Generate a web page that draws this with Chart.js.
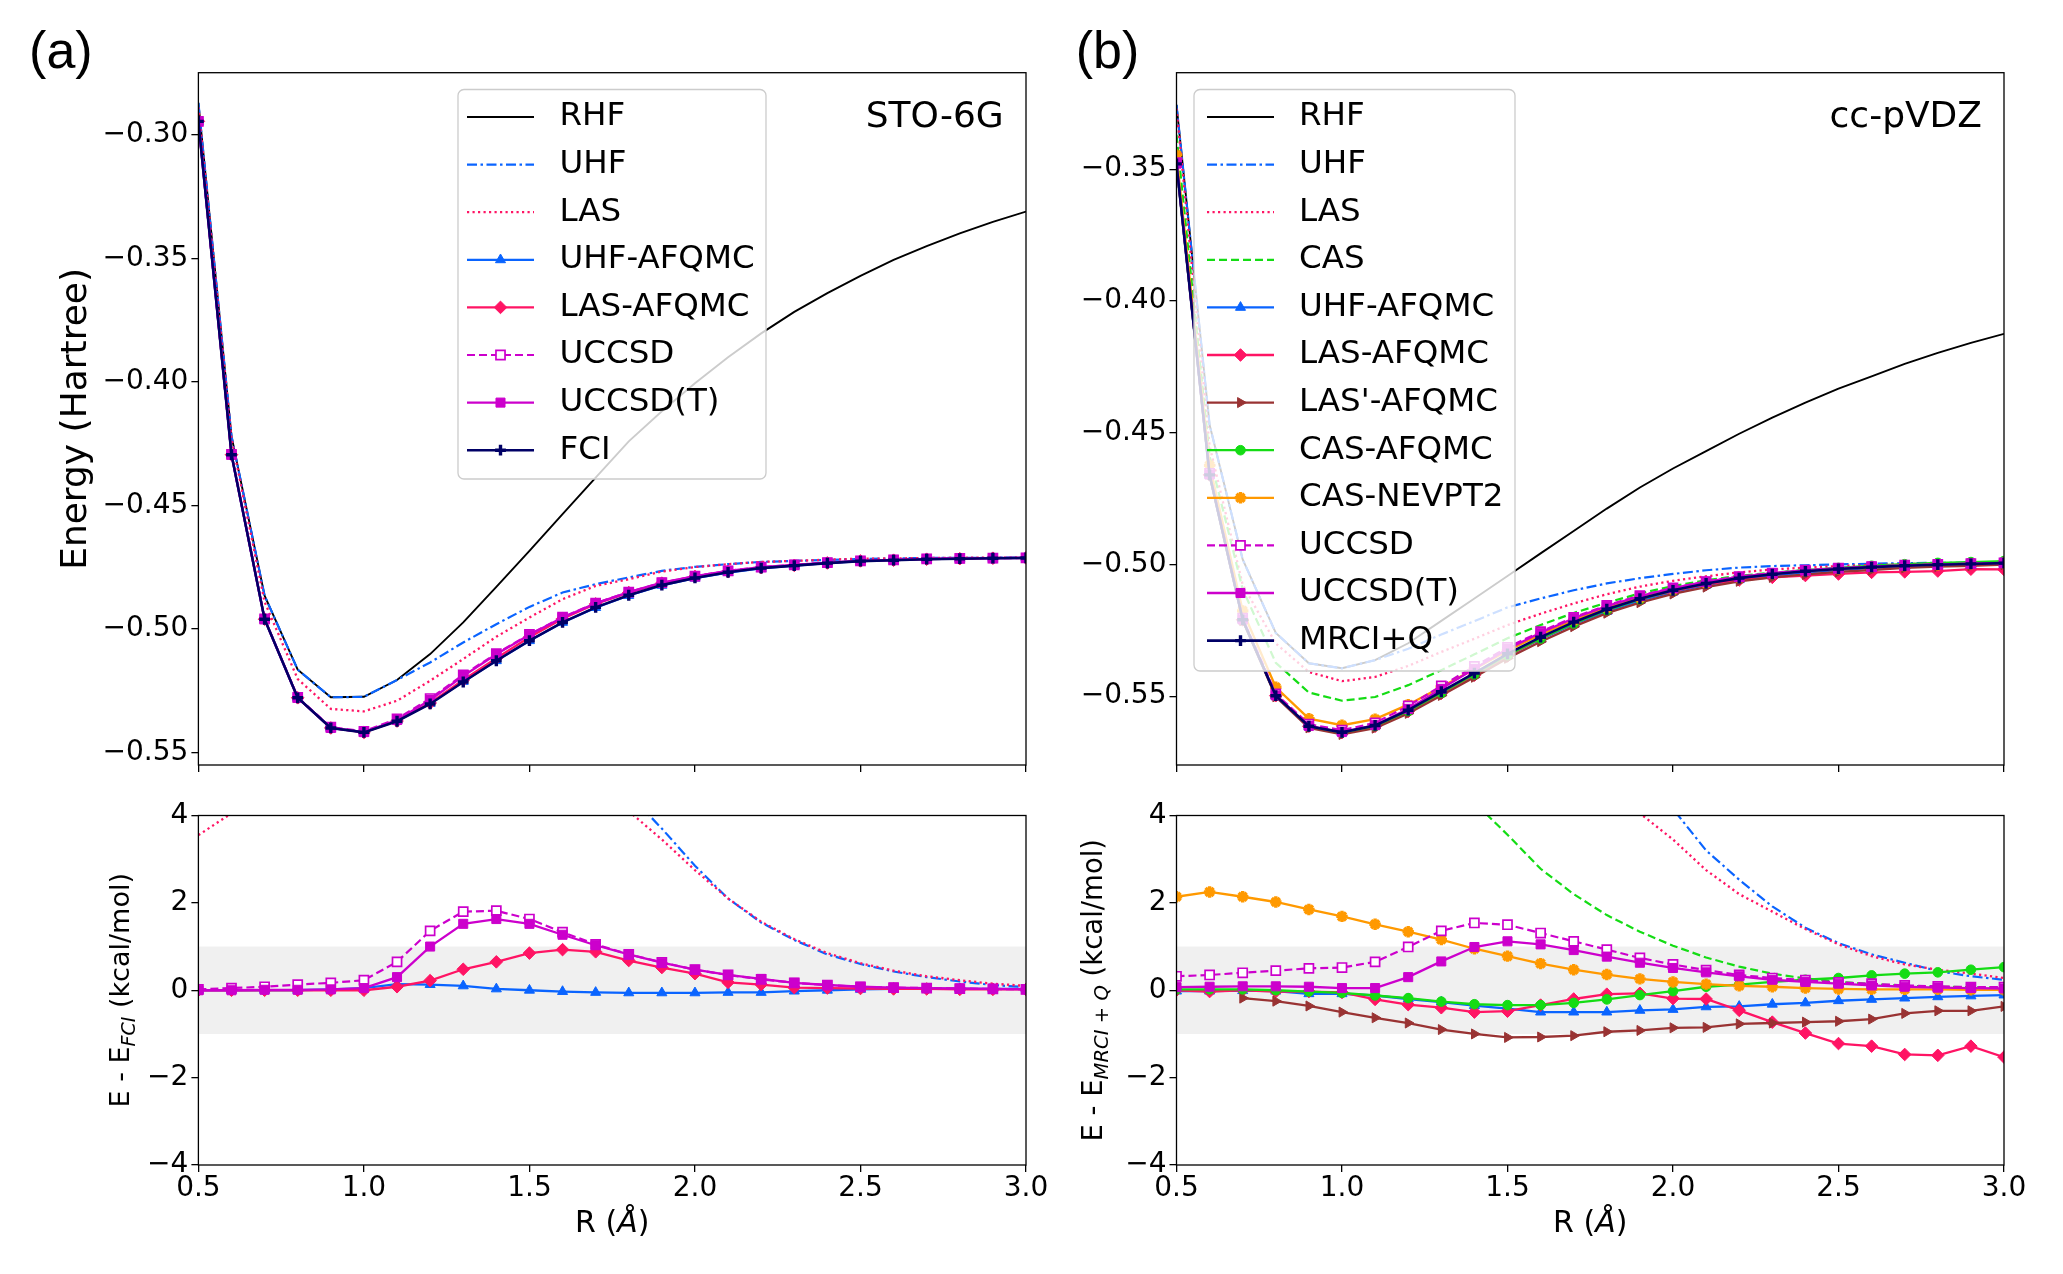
<!DOCTYPE html>
<html>
<head>
<meta charset="utf-8">
<script src="https://cdn.jsdelivr.net/npm/chart.js@4.4.1/dist/chart.umd.min.js"></script>
<style>
  html, body { margin: 0; padding: 0; background: #ffffff; }
  #fig { position: relative; width: 2063px; height: 1274px; overflow: hidden; background: #ffffff; }
  canvas { position: absolute; }
</style>
</head>
<body>
<div id="fig">
  <canvas id="aTop" width="1080" height="790" style="left:0px;top:0px"></canvas>
  <canvas id="aBot" width="1080" height="484" style="left:0px;top:790px"></canvas>
  <canvas id="bTop" width="993" height="790" style="left:1070px;top:0px"></canvas>
  <canvas id="bBot" width="993" height="484" style="left:1070px;top:790px"></canvas>
</div>
<script>
// bond length grid (Angstrom) and tick labels
const rGrid = [0.5, 0.6, 0.7, 0.8, 0.9, 1.0, 1.1, 1.2, 1.3, 1.4, 1.5, 1.6, 1.7, 1.8, 1.9, 2.0, 2.1, 2.2, 2.3, 2.4, 2.5, 2.6, 2.7, 2.8, 2.9, 3.0];
const rTicks = [0.5, 1.0, 1.5, 2.0, 2.5, 3.0];
const energyTicksA = [-0.30, -0.35, -0.40, -0.45, -0.50, -0.55];
const energyTicksB = [-0.35, -0.40, -0.45, -0.50, -0.55];
const errorTicks = [-4, -2, 0, 2, 4];
const chemAccuracy = [-1, 1];

// (a) STO-6G energies (Hartree)
const rhfA = [-0.2870, -0.4219, -0.4865, -0.5164, -0.5276, -0.5274, -0.5206, -0.5101, -0.4973, -0.4829, -0.4683, -0.4535, -0.4387, -0.4240, -0.4118, -0.4005, -0.3900, -0.3803, -0.3716, -0.3640, -0.3570, -0.3506, -0.3450, -0.3398, -0.3352, -0.3310];
const uhfA = [-0.2870, -0.4219, -0.4865, -0.5164, -0.5276, -0.5274, -0.5206, -0.5135, -0.5054, -0.4980, -0.4910, -0.4852, -0.4818, -0.4791, -0.4764, -0.4748, -0.4737, -0.4728, -0.4724, -0.4720, -0.4716, -0.4714, -0.4712, -0.4712, -0.4711, -0.4711];
const lasA = [-0.2888, -0.4229, -0.4890, -0.5202, -0.5323, -0.5333, -0.5290, -0.5209, -0.5121, -0.5031, -0.4953, -0.4879, -0.4825, -0.4798, -0.4767, -0.4749, -0.4737, -0.4728, -0.4724, -0.4719, -0.4715, -0.4714, -0.4712, -0.4711, -0.4711, -0.4710];
const uhfAfqmcA = [-0.2945, -0.4294, -0.4960, -0.5278, -0.5400, -0.5417, -0.5371, -0.5301, -0.5212, -0.5128, -0.5047, -0.4973, -0.4913, -0.4864, -0.4823, -0.4794, -0.4771, -0.4754, -0.4743, -0.4733, -0.4725, -0.4721, -0.4717, -0.4715, -0.4713, -0.4712];
const lasAfqmcA = [-0.2945, -0.4294, -0.4960, -0.5278, -0.5400, -0.5418, -0.5372, -0.5299, -0.5206, -0.5118, -0.5033, -0.4958, -0.4898, -0.4852, -0.4814, -0.4787, -0.4767, -0.4751, -0.4742, -0.4732, -0.4724, -0.4721, -0.4717, -0.4715, -0.4713, -0.4712];
const uccsdA = [-0.2945, -0.4293, -0.4959, -0.5276, -0.5397, -0.5414, -0.5363, -0.5281, -0.5185, -0.5099, -0.5021, -0.4952, -0.4895, -0.4850, -0.4812, -0.4786, -0.4764, -0.4749, -0.4740, -0.4731, -0.4724, -0.4720, -0.4716, -0.4714, -0.4713, -0.4712];
const uccsdTA = [-0.2945, -0.4294, -0.4960, -0.5278, -0.5400, -0.5417, -0.5368, -0.5287, -0.5190, -0.5102, -0.5023, -0.4953, -0.4896, -0.4850, -0.4812, -0.4786, -0.4764, -0.4749, -0.4740, -0.4731, -0.4724, -0.4720, -0.4716, -0.4714, -0.4713, -0.4712];
const fciA = [-0.2945, -0.4294, -0.4960, -0.5278, -0.5400, -0.5418, -0.5373, -0.5303, -0.5214, -0.5128, -0.5047, -0.4973, -0.4912, -0.4863, -0.4822, -0.4793, -0.4770, -0.4753, -0.4743, -0.4733, -0.4725, -0.4721, -0.4717, -0.4715, -0.4713, -0.4712];

// (a) errors vs FCI (kcal/mol)
const errUhfA = [4.7, 4.7, 6.0, 7.2, 7.8, 9.0, 10.5, 10.5, 10.0, 9.2, 8.6, 7.6, 5.9, 4.5, 3.7, 2.85, 2.1, 1.55, 1.15, 0.82, 0.6, 0.43, 0.3, 0.2, 0.12, 0.07];
const errLasA = [3.55, 4.05, 4.4, 4.8, 5.0, 5.3, 5.4, 5.7, 5.9, 6.0, 5.9, 5.7, 5.0, 4.1, 3.45, 2.75, 2.1, 1.57, 1.17, 0.85, 0.62, 0.45, 0.32, 0.23, 0.15, 0.1];
const errUhfAfqmcA = [0.0, 0.0, 0.0, 0.0, 0.02, 0.05, 0.14, 0.13, 0.1, 0.03, 0.0, -0.03, -0.05, -0.06, -0.06, -0.06, -0.05, -0.05, -0.02, 0.0, 0.02, 0.03, 0.03, 0.03, 0.03, 0.03];
const errLasAfqmcA = [0.0, 0.0, 0.0, 0.0, 0.0, 0.0, 0.08, 0.22, 0.48, 0.65, 0.85, 0.93, 0.88, 0.68, 0.52, 0.38, 0.18, 0.13, 0.06, 0.05, 0.04, 0.03, 0.03, 0.02, 0.02, 0.02];
const errUccsdA = [0.02, 0.05, 0.08, 0.13, 0.17, 0.23, 0.65, 1.36, 1.80, 1.82, 1.63, 1.33, 1.05, 0.82, 0.64, 0.47, 0.35, 0.25, 0.17, 0.12, 0.08, 0.06, 0.05, 0.04, 0.03, 0.02];
const errUccsdTA = [0.0, 0.0, 0.01, 0.01, 0.02, 0.05, 0.30, 1.00, 1.52, 1.63, 1.52, 1.27, 1.03, 0.82, 0.63, 0.47, 0.35, 0.26, 0.17, 0.12, 0.08, 0.06, 0.05, 0.04, 0.03, 0.02];

// (b) cc-pVDZ energies (Hartree)
const rhfB = [-0.3256, -0.4470, -0.4981, -0.5260, -0.5375, -0.5394, -0.5363, -0.5299, -0.5214, -0.5129, -0.5044, -0.4958, -0.4873, -0.4788, -0.4708, -0.4636, -0.4570, -0.4504, -0.4443, -0.4386, -0.4333, -0.4286, -0.4239, -0.4197, -0.4159, -0.4125];
const uhfB = [-0.3256, -0.4470, -0.4981, -0.5260, -0.5375, -0.5394, -0.5363, -0.5320, -0.5266, -0.5215, -0.5163, -0.5129, -0.5098, -0.5072, -0.5052, -0.5036, -0.5022, -0.5012, -0.5006, -0.5003, -0.5000, -0.4997, -0.4995, -0.4994, -0.4993, -0.4991];
const lasB = [-0.3270, -0.4550, -0.5077, -0.5300, -0.5408, -0.5443, -0.5427, -0.5385, -0.5332, -0.5282, -0.5230, -0.5187, -0.5148, -0.5113, -0.5084, -0.5062, -0.5045, -0.5030, -0.5019, -0.5012, -0.5006, -0.5002, -0.4999, -0.4996, -0.4994, -0.4991];
const casB = [-0.3370, -0.4589, -0.5094, -0.5373, -0.5486, -0.5517, -0.5503, -0.5458, -0.5401, -0.5341, -0.5280, -0.5230, -0.5184, -0.5145, -0.5110, -0.5082, -0.5060, -0.5043, -0.5031, -0.5022, -0.5014, -0.5008, -0.5003, -0.5000, -0.4997, -0.4994];
const uhfAfqmcB = [-0.3480, -0.4660, -0.5210, -0.5498, -0.5615, -0.5638, -0.5613, -0.5556, -0.5487, -0.5418, -0.5346, -0.5284, -0.5227, -0.5178, -0.5137, -0.5105, -0.5078, -0.5058, -0.5042, -0.5031, -0.5021, -0.5013, -0.5008, -0.5003, -0.5000, -0.4997];
const lasAfqmcB = [-0.3480, -0.4660, -0.5210, -0.5498, -0.5614, -0.5638, -0.5614, -0.5558, -0.5489, -0.5420, -0.5347, -0.5281, -0.5222, -0.5171, -0.5131, -0.5101, -0.5075, -0.5059, -0.5049, -0.5042, -0.5036, -0.5030, -0.5028, -0.5025, -0.5018, -0.5019];
const lasPAfqmcB = [null, null, -0.5213, -0.5502, -0.5620, -0.5645, -0.5621, -0.5565, -0.5497, -0.5428, -0.5356, -0.5293, -0.5236, -0.5185, -0.5145, -0.5112, -0.5086, -0.5064, -0.5049, -0.5038, -0.5028, -0.5021, -0.5013, -0.5008, -0.5005, -0.5001];
const casAfqmcB = [-0.3480, -0.4660, -0.5210, -0.5498, -0.5614, -0.5638, -0.5613, -0.5556, -0.5487, -0.5417, -0.5344, -0.5281, -0.5224, -0.5173, -0.5132, -0.5098, -0.5071, -0.5050, -0.5034, -0.5022, -0.5013, -0.5005, -0.4999, -0.4994, -0.4991, -0.4987];
const nevpt2B = [-0.3446, -0.4624, -0.5176, -0.5466, -0.5585, -0.5610, -0.5587, -0.5532, -0.5465, -0.5397, -0.5327, -0.5266, -0.5212, -0.5164, -0.5126, -0.5095, -0.5070, -0.5050, -0.5036, -0.5025, -0.5017, -0.5010, -0.5005, -0.5001, -0.4998, -0.4995];
const uccsdB = [-0.3475, -0.4654, -0.5204, -0.5491, -0.5606, -0.5629, -0.5601, -0.5537, -0.5461, -0.5387, -0.5315, -0.5255, -0.5201, -0.5155, -0.5118, -0.5089, -0.5065, -0.5046, -0.5033, -0.5022, -0.5014, -0.5008, -0.5003, -0.5000, -0.4997, -0.4994];
const uccsdTB = [-0.3479, -0.4659, -0.5209, -0.5497, -0.5613, -0.5636, -0.5610, -0.5548, -0.5472, -0.5396, -0.5321, -0.5259, -0.5204, -0.5158, -0.5120, -0.5090, -0.5065, -0.5047, -0.5033, -0.5023, -0.5015, -0.5008, -0.5004, -0.5000, -0.4997, -0.4994];
const mrciB = [-0.3480, -0.4660, -0.5210, -0.5498, -0.5614, -0.5637, -0.5611, -0.5553, -0.5483, -0.5412, -0.5339, -0.5276, -0.5219, -0.5170, -0.5130, -0.5098, -0.5072, -0.5052, -0.5037, -0.5026, -0.5017, -0.5010, -0.5005, -0.5001, -0.4998, -0.4995];

// (b) errors vs MRCI+Q (kcal/mol)
const errUhfB = [14.0, 12.0, 14.4, 14.9, 15.0, 15.2, 15.6, 14.4, 13.0, 12.0, 10.9, 9.0, 7.6, 6.3, 5.0, 4.15, 3.2, 2.53, 1.92, 1.43, 1.08, 0.82, 0.63, 0.44, 0.32, 0.24];
const errLasB = [13.0, 7.0, 8.3, 11.7, 12.9, 12.3, 11.6, 10.4, 9.2, 7.9, 6.6, 5.6, 4.9, 4.5, 4.05, 3.45, 2.75, 2.2, 1.8, 1.4, 1.05, 0.78, 0.59, 0.47, 0.38, 0.28];
const errCasB = [8.0, 8.0, 8.0, 8.0, 8.1, 7.5, 6.8, 6.0, 5.1, 4.3, 3.56, 2.78, 2.2, 1.72, 1.34, 1.02, 0.75, 0.54, 0.38, 0.27, 0.19, 0.14, 0.10, 0.08, 0.07, 0.06];
const errUhfAfqmcB = [-0.02, -0.02, -0.01, -0.02, -0.08, -0.08, -0.12, -0.20, -0.27, -0.35, -0.42, -0.50, -0.50, -0.50, -0.46, -0.44, -0.38, -0.37, -0.32, -0.29, -0.24, -0.21, -0.18, -0.15, -0.13, -0.11];
const errLasAfqmcB = [0.0, -0.03, 0.0, -0.03, -0.03, -0.05, -0.21, -0.33, -0.40, -0.50, -0.48, -0.34, -0.20, -0.09, -0.07, -0.19, -0.20, -0.46, -0.73, -0.98, -1.22, -1.28, -1.47, -1.49, -1.28, -1.53];
const errLasPAfqmcB = [null, null, -0.18, -0.25, -0.36, -0.50, -0.63, -0.75, -0.90, -1.00, -1.08, -1.07, -1.04, -0.95, -0.92, -0.86, -0.85, -0.77, -0.75, -0.73, -0.71, -0.66, -0.53, -0.47, -0.47, -0.37];
const errCasAfqmcB = [0.02, 0.02, 0.02, 0.0, -0.03, -0.06, -0.12, -0.18, -0.26, -0.32, -0.34, -0.34, -0.29, -0.21, -0.11, -0.02, 0.08, 0.13, 0.19, 0.24, 0.28, 0.34, 0.38, 0.41, 0.47, 0.53];
const errNevpt2B = [2.14, 2.25, 2.14, 2.02, 1.85, 1.69, 1.51, 1.34, 1.16, 0.95, 0.78, 0.61, 0.47, 0.36, 0.26, 0.19, 0.14, 0.10, 0.08, 0.05, 0.03, 0.02, 0.02, 0.02, 0.01, 0.01];
const errUccsdB = [0.32, 0.35, 0.40, 0.45, 0.50, 0.52, 0.65, 0.99, 1.36, 1.54, 1.50, 1.31, 1.12, 0.93, 0.74, 0.59, 0.46, 0.35, 0.28, 0.23, 0.18, 0.15, 0.11, 0.09, 0.07, 0.07];
const errUccsdTB = [0.07, 0.08, 0.09, 0.09, 0.08, 0.05, 0.05, 0.30, 0.66, 0.99, 1.12, 1.05, 0.92, 0.77, 0.63, 0.51, 0.41, 0.32, 0.24, 0.19, 0.15, 0.11, 0.08, 0.06, 0.05, 0.04];

// line / marker look per method
const styles = {
  'RHF':        { color: '#000000', width: 1.9 },
  'UHF':        { color: '#0a64ff', width: 2.2, dash: [10, 3.5, 2.5, 3.5] },
  'LAS':        { color: '#ff1464', width: 2.3, dash: [2.2, 3.3] },
  'CAS':        { color: '#14dc14', width: 2.2, dash: [8, 4] },
  'UHF-AFQMC':  { color: '#0a64ff', width: 2.3, marker: 'triangle', radius: 5.8 },
  'LAS-AFQMC':  { color: '#ff1464', width: 2.3, marker: 'rectRot', radius: 6.3 },
  "LAS'-AFQMC": { color: '#993333', width: 2.3, marker: 'triangle', radius: 5.8, rotation: 90 },
  'CAS-AFQMC':  { color: '#14dc14', width: 2.3, marker: 'circle', radius: 4.8 },
  'CAS-NEVPT2': { color: '#ff9900', width: 2.3, marker: 'star', radius: 5.7, pointWidth: 3.4 },
  'UCCSD':      { color: '#cc00cc', width: 2.2, dash: [8, 4], marker: 'rect', radius: 6.4, open: true, pointWidth: 1.7 },
  'UCCSD(T)':   { color: '#cc00cc', width: 2.3, marker: 'rect', radius: 6.4 },
  'FCI':        { color: '#000066', width: 2.6, marker: 'cross', radius: 5.4, pointWidth: 3.4 },
  'MRCI+Q':     { color: '#000066', width: 2.6, marker: 'cross', radius: 5.4, pointWidth: 3.4 }
};

Chart.defaults.font.family = '"DejaVu Sans"';
Chart.defaults.color = '#000000';

function series(label, values, i, n) {
  const s = styles[label];
  return {
    label: label,
    data: rGrid.map((r, k) => ({ x: r, y: values[k] })),
    borderColor: s.color,
    borderWidth: s.width,
    borderDash: s.dash || [],
    pointStyle: s.marker || 'circle',
    pointRadius: s.marker ? s.radius : 0,
    pointBackgroundColor: s.open ? '#ffffff' : s.color,
    pointBorderColor: s.color,
    pointBorderWidth: s.pointWidth || 1,
    pointRotation: s.rotation || 0,
    fill: false,
    tension: 0,
    clip: 0,
    order: n - i
  };
}

function datasets(list) {
  return list.map((d, i) => series(d[0], d[1], i, list.length));
}

function drawMarker(ctx, st, x, y) {
  const r = st.radius;
  ctx.save();
  ctx.translate(x, y);
  ctx.rotate((st.rotation || 0) * Math.PI / 180);
  ctx.beginPath();
  if (st.marker === 'circle') {
    ctx.arc(0, 0, r, 0, 2 * Math.PI);
  } else if (st.marker === 'triangle') {
    for (let k = 0; k < 3; k++) {
      const a = k * 2 * Math.PI / 3;
      ctx.lineTo(r * Math.sin(a), -r * Math.cos(a));
    }
    ctx.closePath();
  } else if (st.marker === 'rect') {
    const h = r * Math.SQRT1_2;
    ctx.rect(-h, -h, 2 * h, 2 * h);
  } else if (st.marker === 'rectRot') {
    ctx.moveTo(-r, 0); ctx.lineTo(0, -r); ctx.lineTo(r, 0); ctx.lineTo(0, r); ctx.closePath();
  } else {
    ctx.moveTo(0, -r); ctx.lineTo(0, r); ctx.moveTo(-r, 0); ctx.lineTo(r, 0);
    if (st.marker === 'star') {
      const d = r * Math.SQRT1_2;
      ctx.moveTo(-d, -d); ctx.lineTo(d, d); ctx.moveTo(-d, d); ctx.lineTo(d, -d);
    }
  }
  ctx.fillStyle = st.open ? '#ffffff' : st.color;
  ctx.strokeStyle = st.color;
  ctx.lineWidth = st.pointWidth || 1;
  if (st.marker !== 'cross' && st.marker !== 'star') ctx.fill();
  ctx.stroke();
  ctx.restore();
}

function drawLegend(chart, lg) {
  const ctx = chart.ctx;
  const rad = 6;
  ctx.save();
  ctx.beginPath();
  ctx.moveTo(lg.left + rad, lg.top);
  ctx.arcTo(lg.right, lg.top, lg.right, lg.bottom, rad);
  ctx.arcTo(lg.right, lg.bottom, lg.left, lg.bottom, rad);
  ctx.arcTo(lg.left, lg.bottom, lg.left, lg.top, rad);
  ctx.arcTo(lg.left, lg.top, lg.right, lg.top, rad);
  ctx.closePath();
  ctx.fillStyle = 'rgba(255,255,255,0.8)';
  ctx.fill();
  ctx.strokeStyle = '#cccccc';
  ctx.lineWidth = 1.3;
  ctx.stroke();
  chart.data.datasets.forEach((ds, i) => {
    const st = styles[ds.label];
    const y = lg.row0 + i * lg.step;
    ctx.beginPath();
    ctx.setLineDash(st.dash || []);
    ctx.strokeStyle = st.color;
    ctx.lineWidth = st.width;
    ctx.moveTo(lg.x0, y);
    ctx.lineTo(lg.x1, y);
    ctx.stroke();
    ctx.setLineDash([]);
    if (st.marker) drawMarker(ctx, st, (lg.x0 + lg.x1) / 2, y);
    ctx.fillStyle = '#000000';
    ctx.font = '32.5px "DejaVu Sans"';
    ctx.textAlign = 'left';
    ctx.textBaseline = 'middle';
    ctx.fillText(ds.label, lg.tx, y);
  });
  ctx.restore();
}

function drawText(ctx, item) {
  ctx.save();
  ctx.translate(item.x, item.y);
  if (item.rot) ctx.rotate(item.rot * Math.PI / 180);
  ctx.fillStyle = '#000000';
  ctx.textAlign = 'left';
  ctx.textBaseline = 'alphabetic';
  const fonts = item.parts.map(p => (p.italic ? 'italic ' : '') + p.size + 'px ' + (p.family || '"DejaVu Sans"'));
  const widths = item.parts.map((p, i) => { ctx.font = fonts[i]; return ctx.measureText(p.t).width; });
  const total = widths.reduce((s, v) => s + v, 0);
  let cx = item.align === 'left' ? 0 : (item.align === 'right' ? -total : -total / 2);
  const base = item.parts[0].size * (item.mid || 0.36);
  item.parts.forEach((p, i) => {
    ctx.font = fonts[i];
    ctx.fillText(p.t, cx, base + (p.dy || 0));
    cx += widths[i];
  });
  ctx.restore();
}

function decor(cfg) {
  return {
    id: 'decor',
    beforeDatasetsDraw(chart) {
      if (!cfg.band) return;
      const { ctx, chartArea: a, scales } = chart;
      const y1 = scales.y.getPixelForValue(chemAccuracy[1]);
      const y0 = scales.y.getPixelForValue(chemAccuracy[0]);
      ctx.save();
      ctx.fillStyle = '#f0f0f0';
      ctx.fillRect(a.left, y1, a.right - a.left, y0 - y1);
      ctx.restore();
    },
    afterDatasetsDraw(chart) {
      const { ctx, chartArea: a } = chart;
      ctx.save();
      ctx.strokeStyle = '#000000';
      ctx.lineWidth = 1.3;
      ctx.strokeRect(a.left, a.top, a.right - a.left, a.bottom - a.top);
      ctx.restore();
      if (cfg.legend) drawLegend(chart, cfg.legend);
    },
    afterDraw(chart) {
      (cfg.texts || []).forEach(t => drawText(chart.ctx, t));
    }
  };
}

const minus = v => (v < 0 ? '\u2212' : '') + Math.abs(v);
const energyFmt = v => (v < 0 ? '\u2212' : '') + Math.abs(v).toFixed(2);

// box: canvas origin/size and target plot rectangle in page pixels
function options(box, yMin, yMax, yTicks, yFmt, showX) {
  const tickGrid = { drawOnChartArea: false, drawTicks: true, tickLength: 7, color: '#000000', lineWidth: 1.3 };
  return {
    responsive: false,
    animation: false,
    devicePixelRatio: 1,
    events: [],
    layout: { padding: { left: 0, top: box.top - box.y0, right: box.x0 + box.w - box.right, bottom: 0 } },
    plugins: { legend: { display: false }, tooltip: { enabled: false } },
    scales: {
      x: {
        type: 'linear', min: 0.5, max: 3.0,
        afterBuildTicks: s => { s.ticks = rTicks.map(v => ({ value: v })); },
        afterFit: s => { s.height = box.y0 + box.h - box.bottom; },
        grid: tickGrid,
        border: { display: false },
        ticks: { display: showX, padding: 0, autoSkip: false, maxRotation: 0, color: '#000000',
                 font: { size: 28 }, callback: v => v.toFixed(1) }
      },
      y: {
        type: 'linear', min: yMin, max: yMax,
        afterBuildTicks: s => { s.ticks = yTicks.map(v => ({ value: v })); },
        afterFit: s => { s.width = box.left - box.x0; },
        grid: tickGrid,
        border: { display: false },
        ticks: { padding: 3, autoSkip: false, color: '#000000', font: { size: 28 }, callback: yFmt }
      }
    }
  };
}

const boxATop = { x0: 0, y0: 0, w: 1080, h: 790, left: 198.4, right: 1026, top: 72.7, bottom: 765 };
const boxABot = { x0: 0, y0: 790, w: 1080, h: 484, left: 198.4, right: 1026, top: 815.5, bottom: 1165 };
const boxBTop = { x0: 1070, y0: 0, w: 993, h: 790, left: 1176.5, right: 2004, top: 72.7, bottom: 765 };
const boxBBot = { x0: 1070, y0: 790, w: 993, h: 484, left: 1176.5, right: 2004, top: 815.5, bottom: 1165 };

function xTitle(x) {
  return { x: x, y: 431, align: 'center',
           parts: [{ t: 'R (', size: 30 }, { t: '\u00c5', size: 30, italic: true }, { t: ')', size: 30 }] };
}

new Chart(document.getElementById('aTop'), {
  type: 'line',
  data: {
    datasets: datasets([
      ['RHF', rhfA], ['UHF', uhfA], ['LAS', lasA], ['UHF-AFQMC', uhfAfqmcA], ['LAS-AFQMC', lasAfqmcA],
      ['UCCSD', uccsdA], ['UCCSD(T)', uccsdTA], ['FCI', fciA]
    ])
  },
  options: options(boxATop, -0.555, -0.2748, energyTicksA, energyFmt, false),
  plugins: [decor({
    legend: { left: 458, right: 766, top: 89.5, bottom: 479, row0: 117, step: 47.6, x0: 467, x1: 534, tx: 559.5 },
    texts: [
      { x: 29.1, y: 54.2, align: 'left', mid: 0.27, parts: [{ t: '(a)', size: 52, family: '"Liberation Sans"' }] },
      { x: 1003.7, y: 113.7, align: 'right', parts: [{ t: 'STO-6G', size: 36 }] },
      { x: 72.7, y: 418.9, rot: -90, align: 'center', parts: [{ t: 'Energy (Hartree)', size: 36 }] }
    ]
  })]
});

new Chart(document.getElementById('aBot'), {
  type: 'line',
  data: {
    datasets: datasets([
      ['UHF', errUhfA], ['LAS', errLasA], ['UHF-AFQMC', errUhfAfqmcA], ['LAS-AFQMC', errLasAfqmcA],
      ['UCCSD', errUccsdA], ['UCCSD(T)', errUccsdTA]
    ])
  },
  options: options(boxABot, -4, 4, errorTicks, minus, true),
  plugins: [decor({
    band: true,
    texts: [
      { x: 119, y: 200.25, rot: -90, align: 'center',
        parts: [{ t: 'E - E', size: 27 }, { t: 'FCI', size: 19, italic: true, dy: 6 }, { t: ' (kcal/mol)', size: 27 }] },
      xTitle(612.2)
    ]
  })]
});

new Chart(document.getElementById('bTop'), {
  type: 'line',
  data: {
    datasets: datasets([
      ['RHF', rhfB], ['UHF', uhfB], ['LAS', lasB], ['CAS', casB], ['UHF-AFQMC', uhfAfqmcB],
      ['LAS-AFQMC', lasAfqmcB], ["LAS'-AFQMC", lasPAfqmcB], ['CAS-AFQMC', casAfqmcB],
      ['CAS-NEVPT2', nevpt2B], ['UCCSD', uccsdB], ['UCCSD(T)', uccsdTB], ['MRCI+Q', mrciB]
    ])
  },
  options: options(boxBTop, -0.5761, -0.3134, energyTicksB, energyFmt, false),
  plugins: [decor({
    legend: { left: 124, right: 445, top: 89.5, bottom: 671, row0: 117, step: 47.6, x0: 137, x1: 204, tx: 229 },
    texts: [
      { x: 5.7, y: 54.2, align: 'left', mid: 0.27, parts: [{ t: '(b)', size: 52, family: '"Liberation Sans"' }] },
      { x: 912, y: 113.7, align: 'right', parts: [{ t: 'cc-pVDZ', size: 36 }] }
    ]
  })]
});

new Chart(document.getElementById('bBot'), {
  type: 'line',
  data: {
    datasets: datasets([
      ['UHF', errUhfB], ['LAS', errLasB], ['CAS', errCasB], ['UHF-AFQMC', errUhfAfqmcB],
      ['LAS-AFQMC', errLasAfqmcB], ["LAS'-AFQMC", errLasPAfqmcB], ['CAS-AFQMC', errCasAfqmcB],
      ['CAS-NEVPT2', errNevpt2B], ['UCCSD', errUccsdB], ['UCCSD(T)', errUccsdTB]
    ])
  },
  options: options(boxBBot, -4, 4, errorTicks, minus, true),
  plugins: [decor({
    band: true,
    texts: [
      { x: 22, y: 200.25, rot: -90, align: 'center',
        parts: [{ t: 'E - E', size: 27.5 }, { t: 'MRCI + Q', size: 19.6, italic: true, dy: 6 }, { t: ' (kcal/mol)', size: 27.5 }] },
      xTitle(520.25)
    ]
  })]
});
</script>
</body>
</html>
